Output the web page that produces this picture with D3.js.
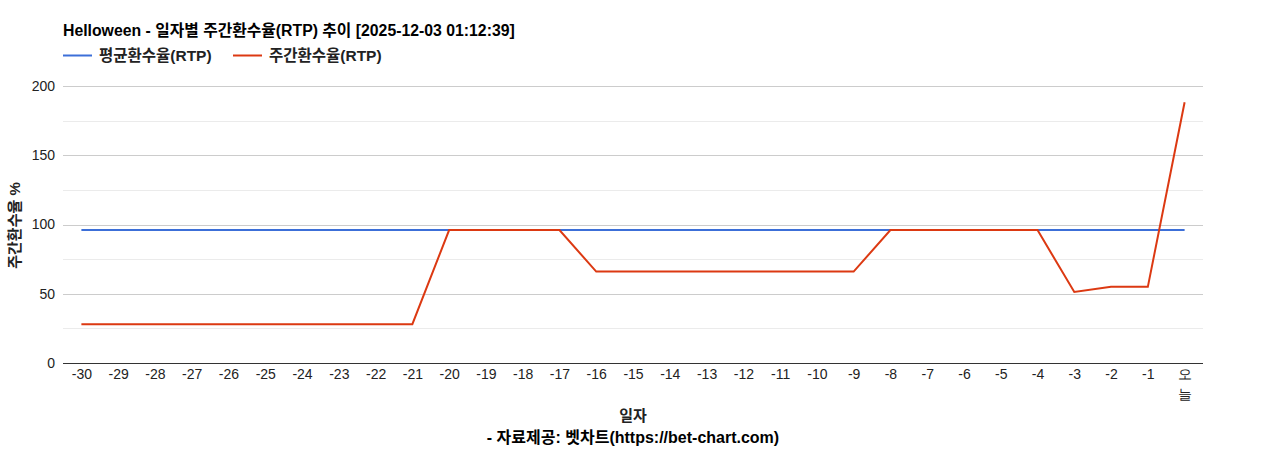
<!DOCTYPE html>
<html>
<head>
<meta charset="utf-8">
<script src="https://cdn.jsdelivr.net/npm/d3@7"></script>
<style>
  body { margin: 0; background: #fff; }
  svg { display: block; font-family: Arial, "Liberation Sans", "Noto Sans CJK KR", sans-serif; }
</style>
</head>
<body>
<svg id="chart"></svg>
<script>
const width = 1268;
const height = 450;
const margin = { top: 86, right: 65, bottom: 87, left: 63 };

// Data
const days = ["-30", "-29", "-28", "-27", "-26", "-25", "-24", "-23", "-22", "-21",
  "-20", "-19", "-18", "-17", "-16", "-15", "-14", "-13", "-12", "-11",
  "-10", "-9", "-8", "-7", "-6", "-5", "-4", "-3", "-2", "-1", "오늘"];
const avgRtp = [96, 96, 96, 96, 96, 96, 96, 96, 96, 96,
  96, 96, 96, 96, 96, 96, 96, 96, 96, 96,
  96, 96, 96, 96, 96, 96, 96, 96, 96, 96, 96];
const weeklyRtp = [28, 28, 28, 28, 28, 28, 28, 28, 28, 28,
  96, 96, 96, 96, 66, 66, 66, 66, 66, 66,
  66, 66, 96, 96, 96, 96, 96, 51.3, 55, 55, 188.3];
const yTicks = [0, 50, 100, 150, 200];
const yMinorTicks = [25, 75, 125, 175];

const series = [
  { name: "평균환수율(RTP)", values: avgRtp, color: "#3c6fd8" },
  { name: "주간환수율(RTP)", values: weeklyRtp, color: "#dc3912" },
];

const svg = d3.select("#chart").attr("width", width).attr("height", height);

const x = d3
  .scalePoint()
  .domain(days)
  .range([margin.left, width - margin.right])
  .padding(0.5);

const y = d3
  .scaleLinear()
  .domain([0, 200])
  .range([height - margin.bottom, margin.top]);

// gridlines
svg
  .append("g")
  .selectAll("line")
  .data(yMinorTicks)
  .enter()
  .append("line")
  .attr("x1", margin.left)
  .attr("x2", width - margin.right)
  .attr("y1", (d) => Math.round(y(d)) + 0.5)
  .attr("y2", (d) => Math.round(y(d)) + 0.5)
  .attr("stroke", "#ebebeb");

svg
  .append("g")
  .selectAll("line")
  .data(yTicks.filter((d) => d !== 0))
  .enter()
  .append("line")
  .attr("x1", margin.left)
  .attr("x2", width - margin.right)
  .attr("y1", (d) => Math.round(y(d)) + 0.5)
  .attr("y2", (d) => Math.round(y(d)) + 0.5)
  .attr("stroke", "#cccccc");

// y axis labels
const yAxis = d3.axisLeft(y).tickValues(yTicks).tickSize(0).tickPadding(8);
svg
  .append("g")
  .attr("class", "y-axis")
  .attr("transform", `translate(${margin.left}, 0)`)
  .call(yAxis)
  .call((g) => g.select(".domain").remove())
  .selectAll("text")
  .style("font-size", "14px")
  .style("fill", "#222")
  .style("font-family", "Arial, 'Liberation Sans', sans-serif");

// lines
const line = d3
  .line()
  .x((d, i) => x(days[i]))
  .y((d) => y(d));

svg
  .selectAll(".series")
  .data(series)
  .enter()
  .append("path")
  .attr("class", "series")
  .attr("d", (d) => line(d.values))
  .attr("fill", "none")
  .attr("stroke", (d) => d.color)
  .attr("stroke-width", 2);

// baseline
svg
  .append("line")
  .attr("x1", margin.left)
  .attr("x2", width - margin.right)
  .attr("y1", y(0) + 0.5)
  .attr("y2", y(0) + 0.5)
  .attr("stroke", "#333");

// x axis labels
const xAxis = d3.axisBottom(x).tickSize(0).tickPadding(6);
const xg = svg
  .append("g")
  .attr("class", "x-axis")
  .attr("transform", `translate(0, ${y(0)})`)
  .call(xAxis);
xg.select(".domain").remove();
xg.selectAll("text")
  .style("font-size", "14px")
  .style("fill", "#222")
  .each(function (d) {
    // "오늘" wraps onto two lines in the original
    if (d === "오늘") {
      const t = d3.select(this).text(null);
      t.append("tspan").attr("x", 0).attr("dy", "0.71em").text("오");
      t.append("tspan").attr("x", 0).attr("dy", "1.45em").text("늘");
      t.attr("dy", null);
    }
  });

// title
svg
  .append("text")
  .attr("x", margin.left)
  .attr("y", 36)
  .style("font-size", "15.8px")
  .style("font-weight", "bold")
  .style("fill", "#000")
  .text("Helloween - 일자별 주간환수율(RTP) 추이 [2025-12-03 01:12:39]");

// legend
const legendX = [63, 233];
const legend = svg
  .selectAll(".legend")
  .data(series)
  .enter()
  .append("g")
  .attr("class", "legend")
  .attr("transform", (d, i) => `translate(${legendX[i]}, 55.5)`);
legend
  .append("line")
  .attr("x1", 0)
  .attr("x2", 29)
  .attr("stroke", (d) => d.color)
  .attr("stroke-width", 2);
legend
  .append("text")
  .attr("x", 36)
  .attr("dy", "0.36em")
  .style("font-size", "15.5px")
  .style("font-weight", "bold")
  .style("fill", "#222")
  .text((d) => d.name);

// y axis title
svg
  .append("text")
  .attr("transform", `translate(20, ${(y(0) + y(200)) / 2 + 1}) rotate(-90)`)
  .style("text-anchor", "middle")
  .style("font-size", "15px")
  .style("font-weight", "bold")
  .style("fill", "#222")
  .text("주간환수율 %");

// x axis title
svg
  .append("text")
  .attr("x", (margin.left + width - margin.right) / 2)
  .attr("y", 421)
  .style("text-anchor", "middle")
  .style("font-size", "15px")
  .style("font-weight", "bold")
  .style("fill", "#222")
  .text("일자");

// source
svg
  .append("text")
  .attr("x", (margin.left + width - margin.right) / 2)
  .attr("y", 443)
  .style("text-anchor", "middle")
  .style("font-size", "16px")
  .style("font-weight", "bold")
  .style("fill", "#000")
  .text("- 자료제공: 벳차트(https://bet-chart.com)");
</script>
</body>
</html>
